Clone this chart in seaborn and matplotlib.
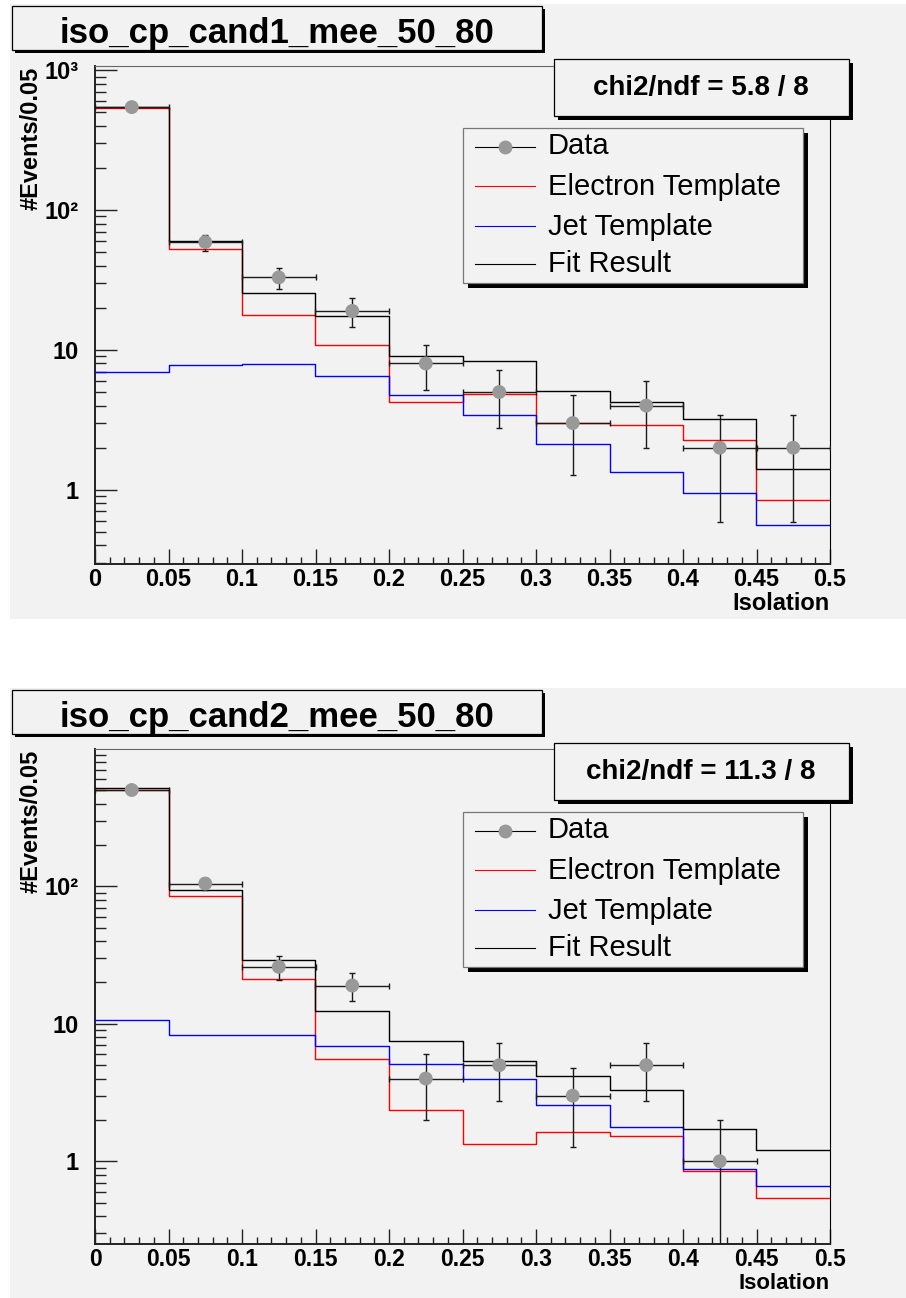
import numpy as np
import pandas as pd
import matplotlib
matplotlib.use("Agg")
import matplotlib.pyplot as plt
from matplotlib.patches import Rectangle
from matplotlib.lines import Line2D
from matplotlib.ticker import FixedLocator, FixedFormatter, MultipleLocator, NullFormatter, LogLocator
import seaborn as sns

# ---------------- data ----------------
bin_edges = [0.0, 0.05, 0.1, 0.15, 0.2, 0.25, 0.3, 0.35, 0.4, 0.45, 0.5]
x_ticks = [0.0, 0.05, 0.1, 0.15, 0.2, 0.25, 0.3, 0.35, 0.4, 0.45, 0.5]
x_tick_labels = ["0", "0.05", "0.1", "0.15", "0.2", "0.25", "0.3", "0.35", "0.4", "0.45", "0.5"]

titles = ["iso_cp_cand1_mee_50_80", "iso_cp_cand2_mee_50_80"]
chi2_texts = ["chi2/ndf = 5.8 / 8", "chi2/ndf = 11.3 / 8"]
legend_labels = ["Data", "Electron Template", "Jet Template", "Fit Result"]
x_label = "Isolation"
y_label = "#Events/0.05"

data_cand1 = [544, 59, 33, 19, 8, 5, 3, 4, 2, 2]
electron_cand1 = [540, 52.4, 17.7, 10.9, 4.27, 4.87, 2.98, 2.90, 2.28, 0.85]
jet_cand1 = [7.0, 7.85, 7.98, 6.52, 4.77, 3.43, 2.12, 1.33, 0.95, 0.556]
fit_cand1 = [547, 60.3, 25.6, 17.4, 9.05, 8.3, 5.1, 4.23, 3.22, 1.41]

data_cand2 = [503, 105, 26, 19, 4, 5, 3, 5, 1, 0]
electron_cand2 = [506, 85.3, 21.1, 5.58, 2.38, 1.33, 1.62, 1.52, 0.85, 0.543]
jet_cand2 = [10.6, 8.28, 8.25, 6.9, 5.11, 4.0, 2.55, 1.78, 0.884, 0.663]
fit_cand2 = [517, 93.6, 29.3, 12.5, 7.5, 5.34, 4.16, 3.29, 1.72, 1.21]

# ---------------- style ----------------
plt.rcParams["font.family"] = ["Liberation Sans", "DejaVu Sans"]
PAD = "#f2f2f2"
W, H = 906, 1298
fig = plt.figure(figsize=(W / 100, H / 100), dpi=100, facecolor="white")


def fx(x):
    return x / W


def fy(y):
    return 1 - y / H


def rect(x0, y0, x1, y1, **kw):
    r = Rectangle((fx(x0), fy(y1)), (x1 - x0) / W, (y1 - y0) / H,
                  transform=fig.transFigure, **kw)
    fig.add_artist(r)
    return r


def boxed(x0, y0, x1, y1, shadow, z, ec="black"):
    rect(x0 + shadow, y0 + shadow, x1 + shadow, y1 + shadow, facecolor="black",
         edgecolor="none", zorder=z)
    rect(x0, y0, x1, y1, facecolor=PAD, edgecolor=ec, linewidth=0.9, zorder=z + 0.1)


def ytick_label(v):
    return {1: "1", 10: "10", 100: "10²", 1000: "10³"}.get(int(round(v)), "")


def draw_panel(off, title, chi2, data, elec, jet, fit, ylim, yticks,
               ax_top, ax_bot, xlab_gap, tick_fs, xlab_fs):
    # pad background
    rect(10, 4 + off, 906, 619 + off, facecolor=PAD, edgecolor="none", zorder=-5)

    ax = fig.add_axes([fx(95), fy(ax_bot), (830 - 95) / W, (ax_bot - ax_top) / H])
    ax.set_facecolor(PAD)

    edges = np.asarray(bin_edges)
    centers = (edges[:-1] + edges[1:]) / 2
    half = (edges[1:] - edges[:-1]) / 2

    for vals, col in [(elec, "#ff0000"), (jet, "#0000ff"), (fit, "black")]:
        df = pd.DataFrame({"iso": centers, "w": np.asarray(vals, float)})
        sns.histplot(data=df, x="iso", weights="w", bins=list(bin_edges), element="step",
                     fill=False, color=col, linewidth=1.0, ax=ax, zorder=3)

    d = np.asarray(data, float)
    m = d > 0
    err = np.sqrt(d)
    lo = np.minimum(err, d * 0.9999)
    ax.errorbar(centers[m], d[m], xerr=half[m], yerr=[lo[m], err[m]], fmt="none",
                ecolor="#1a1a1a", elinewidth=1.0, capsize=2.5, capthick=1.0, zorder=4)
    sns.scatterplot(x=centers[m], y=d[m], color="#999999", s=100, edgecolor="none",
                    ax=ax, zorder=5)

    ax.set_yscale("log")
    ax.set_xlim(0, 0.5)
    ax.set_ylim(*ylim)

    ax.yaxis.set_major_locator(FixedLocator(yticks))
    ax.yaxis.set_major_formatter(FixedFormatter([ytick_label(v) for v in yticks]))
    ax.yaxis.set_minor_locator(LogLocator(base=10, subs=np.arange(2, 10)))
    ax.yaxis.set_minor_formatter(NullFormatter())
    ax.xaxis.set_major_locator(FixedLocator(x_ticks))
    ax.xaxis.set_major_formatter(FixedFormatter(x_tick_labels))
    ax.xaxis.set_minor_locator(MultipleLocator(0.01))

    ax.tick_params(axis="y", which="major", direction="in", length=15.5, width=1.0,
                   left=True, right=False, pad=12, labelsize=17, color="#222222")
    ax.tick_params(axis="y", which="minor", direction="in", length=7.8, width=1.0,
                   left=True, right=False, color="#222222")
    ax.tick_params(axis="x", which="major", direction="in", length=10.8, width=1.0,
                   bottom=True, top=False, pad=3, labelsize=tick_fs, color="#222222")
    ax.tick_params(axis="x", which="minor", direction="in", length=5, width=1.0,
                   bottom=True, top=False, color="#222222")
    for lab in ax.get_xticklabels() + ax.get_yticklabels():
        lab.set_fontweight("bold")

    for s in ["left", "bottom"]:
        ax.spines[s].set_linewidth(1.4)
        ax.spines[s].set_color("#222222")
    ax.spines["top"].set_linewidth(0.8)
    ax.spines["top"].set_color("#666666")
    ax.spines["right"].set_linewidth(0.8)
    ax.spines["right"].set_color("black")

    ax.set_xlabel(x_label, loc="right", fontsize=xlab_fs, fontweight="bold")
    ax.xaxis.set_label_coords(1.0, -xlab_gap / (ax_bot - ax_top))
    ax.set_ylabel(y_label, loc="top", fontsize=17, fontweight="bold")
    ax.yaxis.set_label_coords(-(95 - 43) / 735, 0.998)

    # title box
    boxed(12, 6 + off, 542, 50 + off, 3, 6)
    fig.text(fx(277), fy(42.5 + off), title, ha="center", va="baseline",
             fontsize=25, fontweight="bold", zorder=7)

    # chi2 box
    boxed(554, 59 + off, 849, 116 + off, 4, 6)
    fig.text(fx(701), fy(95 + off), chi2, ha="center", va="baseline",
             fontsize=20, fontweight="bold", zorder=7)

    # legend box
    boxed(463, 128 + off, 803, 283 + off, 5, 6, ec="#777777")
    line_y = [147, 186, 226, 264]
    base_y = [154.5, 195, 235, 271.5]
    cols = ["black", "#ff0000", "#0000ff", "black"]
    for i, lab in enumerate(legend_labels):
        yy = fy(line_y[i] + off)
        fig.add_artist(Line2D([fx(475), fx(535)], [yy, yy], color=cols[i], linewidth=0.8,
                              transform=fig.transFigure, zorder=7))
        if i == 0:
            fig.add_artist(Line2D([fx(505)], [yy], marker="o", markersize=10,
                                  color="#999999", markeredgecolor="none", linestyle="none",
                                  transform=fig.transFigure, zorder=8))
        fig.text(fx(548), fy(base_y[i] + off), lab, ha="left", va="baseline",
                 fontsize=21, zorder=8)
    return ax


draw_panel(0, titles[0], chi2_texts[0], data_cand1, electron_cand1, jet_cand1, fit_cand1,
           (0.295, 1070), [1, 10, 100, 1000], 66, 564, 28, 17, 17)
draw_panel(684, titles[1], chi2_texts[1], data_cand2, electron_cand2, jet_cand2, fit_cand2,
           (0.25, 1000), [1, 10, 100], 749, 1244, 29, 16.5, 16)

fig.savefig("out.png", dpi=100, facecolor="white")
